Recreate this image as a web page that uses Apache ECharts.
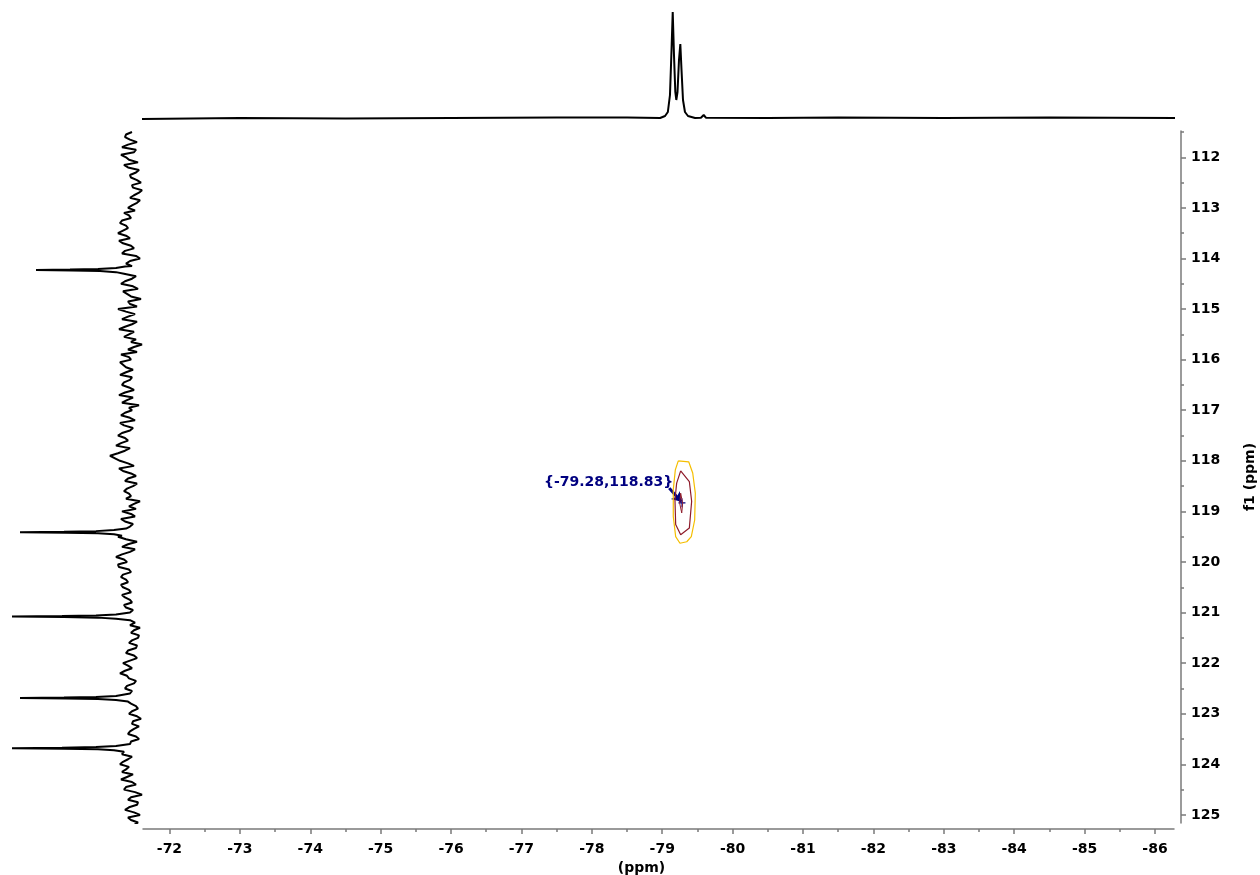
<!DOCTYPE html>
<html>
<head>
<meta charset="utf-8">
<script src="https://cdn.jsdelivr.net/npm/echarts@6/dist/echarts.min.js"></script>
<style>
  html, body { margin: 0; padding: 0; background: #fff; }
  #chart { width: 1260px; height: 875px; }
</style>
</head>
<body>
<div id="chart"></div>
<script>
// axis ranges (ppm)
const f2Range = [-86.27, -71.624];
const f1Range = [111.48, 125.16];
const f2Ticks = [-72, -73, -74, -75, -76, -77, -78, -79, -80, -81, -82, -83, -84, -85, -86];
const f2MinorTicks = [-72.5, -73.5, -74.5, -75.5, -76.5, -77.5, -78.5, -79.5, -80.5, -81.5, -82.5, -83.5, -84.5, -85.5];
const f1Ticks = [112, 113, 114, 115, 116, 117, 118, 119, 120, 121, 122, 123, 124, 125];
const f1MinorTicks = [111.5, 112.5, 113.5, 114.5, 115.5, 116.5, 117.5, 118.5, 119.5, 120.5, 121.5, 122.5, 123.5, 124.5];

// f2 projection (top), [ppm, intensity]
const topTrace = [
  [-71.6, -1], [-73, 0], [-74.5, -0.5], [-76, 0], [-77.5, 0.5], [-78.5, 0.5],
  [-78.97, 0], [-79.04, 2], [-79.08, 6], [-79.11, 23], [-79.132, 68], [-79.149, 106],
  [-79.167, 63], [-79.186, 26], [-79.2, 18], [-79.217, 26], [-79.238, 58], [-79.257, 74],
  [-79.274, 48], [-79.295, 18], [-79.323, 6], [-79.366, 2], [-79.466, 0],
  [-79.55, 0.3], [-79.589, 3], [-79.62, 0.3], [-80.5, 0], [-81.5, 0.5], [-83, 0],
  [-84.5, 0.5], [-86.3, 0]
];

// f1 projection (left): noise read every 0.1 ppm from 111.5, plus the in-between points from 111.55
const sideNoiseStart = 111.5;
const sideNoise = [
  8, 15, 3, 18, 6, 14, 2, 12, 4, 9,
  -1, 7, 1, 10, 3, 12, 16, 9, 20, 12,
  22, 10, 17, 6, 18, 0, 14, 12, 16, 8,
  19, 2, 13, -1, 10, 22, 5, 18, 8, 21,
  11, 4, -2, 12, 19, 9, 17, 7, 20, 10,
  18, 6, 21, 13, 1, 8, 19, 5, 16, 10,
  22, 12, 24, 15, 30, 20, 6, 17, 4, 15,
  7, 16, 9, 0, 11, 18, 5, 15, 10, 12,
  22, 3, 18, 10, 24, 13, 21, 9, 19, 12,
  17, 9, 15, 8, 14, 10, 10, 5, 0, 9,
  2, 11, 4, 14, 3, 17, 8, 20, 11, 6,
  15, 10, 10, 9, 2, 11, -1, 8, 6, 12,
  1, 10, 10, 18, 12, 20, 14, 7, 19, 4,
  16, -2, 12, 3, 15, 0, 9, 6
];
const sideNoiseMid = [
  14, 10, 12, 4, 19, 11, 16, 1, 10, 3,
  8, -2, 6, 0, 8, 5, 11, 18, 14, 17,
  14, 21, 9, 15, 4, 10, 8, 6, 4, 15,
  7, 17, 9, 12, 3, 14, 12, 3, 15, 6,
  16, 9, 6, 3, 11, 20, 14, 14, 8, 16,
  11, 15, 7, 18, 11, 15, 10, 20, 7, 18,
  15, 19, 10, 22, 25, 12, 21, 9, 12, 3,
  13, 11, 14, 6, 4, 9, 19, 7, 8, 10,
  14, 12, 5, 18, 16, 22, 11, 17, 14, 19,
  11, 18, 10, 16, 7, 10, 10, 10, 6, 1,
  8, 3, 12, 6, 10, 12, 15, 13, 4, 13,
  8, 10, 10, 4, 8, 3, 7, 1, 10, 4,
  9, 10, 10, 8, 17, 11, 18, 13, 8, 14,
  5, 9, 2, 11, 6, 12, 2
];
const sidePeaks = [
  [[114.16, 15], [114.19, 24], [114.21, 42], [114.22, 70], [114.23, 104], [114.24, 68], [114.25, 40], [114.27, 24], [114.30, 16]],
  [[119.34, 14], [119.37, 26], [119.39, 44], [119.40, 76], [119.41, 120], [119.42, 74], [119.43, 42], [119.45, 26], [119.48, 18]],
  [[121.01, 12], [121.04, 24], [121.06, 44], [121.07, 78], [121.08, 128], [121.09, 76], [121.10, 42], [121.12, 24], [121.15, 10]],
  [[122.62, 12], [122.65, 24], [122.67, 44], [122.68, 76], [122.69, 120], [122.70, 74], [122.71, 42], [122.73, 24], [122.76, 12]],
  [[123.61, 10], [123.64, 24], [123.66, 44], [123.67, 78], [123.68, 128], [123.69, 76], [123.70, 42], [123.72, 26], [123.75, 16]]
];

// 2D contours, [f2, f1]
const contourOuter = [
  [-79.228, 118.00], [-79.376, 118.02], [-79.433, 118.24], [-79.470, 118.64], [-79.461, 119.17],
  [-79.413, 119.50], [-79.348, 119.60], [-79.252, 119.63], [-79.191, 119.50], [-79.157, 119.10],
  [-79.157, 118.57], [-79.186, 118.18], [-79.228, 118.00]
];
const contourInner = [
  [-79.262, 118.20], [-79.385, 118.41], [-79.418, 118.80], [-79.385, 119.33], [-79.262, 119.46],
  [-79.191, 119.26], [-79.181, 118.77], [-79.205, 118.44], [-79.262, 118.20]
];
const contourCore = [
  [-79.262, 118.64], [-79.290, 118.84], [-79.277, 119.03], [-79.248, 118.84], [-79.262, 118.64]
];

const peakPick = [-79.28, 118.83];
const arrowFrom = [-79.10, 118.54];
const arrowTo = [-79.27, 118.81];
const labelAt = [-79.157, 118.43];

const font = "DejaVu Sans";
const axisGrey = "#7a7a7a";

const nearPeak = (ppm) => sidePeaks.some((pk) => Math.abs(pk[4][0] - ppm) < 0.075);
const sideTrace = [];
sideNoise.forEach((v, i) => {
  const ppm = +(sideNoiseStart + i * 0.1).toFixed(2);
  if (!nearPeak(ppm)) sideTrace.push([ppm, v]);
});
sideNoiseMid.forEach((v, i) => {
  const ppm = +(sideNoiseStart + 0.05 + i * 0.1).toFixed(2);
  if (!nearPeak(ppm)) sideTrace.push([ppm, v]);
});
sidePeaks.forEach((pk) => sideTrace.push(...pk));
sideTrace.sort((a, b) => a[0] - b[0]);

const chart = echarts.init(document.getElementById("chart"));

const labelStyle = {
  fontFamily: font,
  fontWeight: "bold",
  fontSize: 14,
  color: "#000"
};

chart.setOption({
  animation: false,
  grid: [
    { left: 143, right: 86, top: 131, bottom: 52, outerBoundsMode: "none" },
    { left: 143, right: 86, top: 5, height: 120, outerBoundsMode: "none" },
    { left: 0, width: 145, top: 131, bottom: 52, outerBoundsMode: "none" }
  ],
  xAxis: [
    {
      gridIndex: 0,
      type: "value",
      position: "bottom",
      min: f2Range[0],
      max: f2Range[1],
      inverse: true,
      offset: 6,
      axisLine: { lineStyle: { color: axisGrey, width: 1.5 } },
      axisTick: { customValues: f2Ticks, length: 5, lineStyle: { color: axisGrey, width: 1.5 } },
      axisLabel: { customValues: f2Ticks, margin: 13, ...labelStyle },
      splitLine: { show: false },
      name: "(ppm)",
      nameLocation: "middle",
      nameGap: 24,
      nameTextStyle: { ...labelStyle, padding: [0, 34, 0, 0] }
    },
    {
      gridIndex: 0,
      type: "value",
      position: "bottom",
      min: f2Range[0],
      max: f2Range[1],
      inverse: true,
      offset: 6,
      axisLine: { show: false },
      axisTick: { customValues: f2MinorTicks, length: 3, lineStyle: { color: axisGrey, width: 1.5 } },
      axisLabel: { show: false },
      splitLine: { show: false }
    },
    { gridIndex: 1, type: "value", min: f2Range[0], max: f2Range[1], inverse: true, show: false },
    { gridIndex: 2, type: "value", min: -5, max: 140, inverse: true, show: false }
  ],
  yAxis: [
    {
      gridIndex: 0,
      type: "value",
      position: "right",
      min: f1Range[0],
      max: f1Range[1],
      inverse: true,
      offset: 7,
      axisLine: { show: true, lineStyle: { color: axisGrey, width: 1.5 } },
      axisTick: { show: true, customValues: f1Ticks, length: 5, lineStyle: { color: axisGrey, width: 1.5 } },
      axisLabel: { customValues: f1Ticks, margin: 10, ...labelStyle },
      splitLine: { show: false },
      name: "f1 (ppm)",
      nameLocation: "middle",
      nameRotate: 90,
      nameGap: 62,
      nameTextStyle: labelStyle
    },
    {
      gridIndex: 0,
      type: "value",
      position: "right",
      min: f1Range[0],
      max: f1Range[1],
      inverse: true,
      offset: 7,
      axisLine: { show: false },
      axisTick: { show: true, customValues: f1MinorTicks, length: 3, lineStyle: { color: axisGrey, width: 1.5 } },
      axisLabel: { show: false },
      splitLine: { show: false }
    },
    { gridIndex: 1, type: "value", min: -7, max: 113, show: false },
    { gridIndex: 2, type: "value", min: f1Range[0], max: f1Range[1], inverse: true, show: false }
  ],
  series: [
    {
      name: "f2 projection",
      type: "line",
      xAxisIndex: 2,
      yAxisIndex: 2,
      data: topTrace,
      symbol: "none",
      lineStyle: { color: "#000", width: 2 }
    },
    {
      name: "f1 projection",
      type: "line",
      xAxisIndex: 3,
      yAxisIndex: 3,
      data: sideTrace.map(([ppm, v]) => [v, ppm]),
      symbol: "none",
      lineStyle: { color: "#000", width: 2 }
    },
    {
      type: "line",
      data: contourOuter,
      symbol: "none",
      lineStyle: { color: "#F5BE00", width: 1.2 }
    },
    {
      type: "line",
      data: contourInner,
      symbol: "none",
      lineStyle: { color: "#8E1B2A", width: 1.2 }
    },
    {
      type: "line",
      data: contourCore,
      symbol: "none",
      lineStyle: { color: "#8E1B2A", width: 1 }
    },
    {
      type: "lines",
      coordinateSystem: "cartesian2d",
      xAxisIndex: 0,
      yAxisIndex: 0,
      symbol: ["none", "arrow"],
      symbolSize: 9,
      lineStyle: { color: "#000080", width: 3, opacity: 1 },
      data: [{ coords: [arrowFrom, arrowTo] }]
    },
    {
      type: "scatter",
      data: [peakPick],
      symbol: "path://M2,0h1v3h3v1h-3v3h-1v-3h-3v-1h3z",
      symbolSize: [7, 9],
      itemStyle: { color: "#000080", opacity: 1 }
    },
    {
      type: "scatter",
      data: [labelAt],
      symbolSize: 0,
      itemStyle: { opacity: 1 },
      label: {
        show: true,
        position: "left",
        distance: 0,
        formatter: () => `{${peakPick[0].toFixed(2)},${peakPick[1].toFixed(2)}}`,
        fontFamily: font,
        fontWeight: "bold",
        fontSize: 14,
        color: "#000080",
        opacity: 1
      }
    }
  ]
});
</script>
</body>
</html>
